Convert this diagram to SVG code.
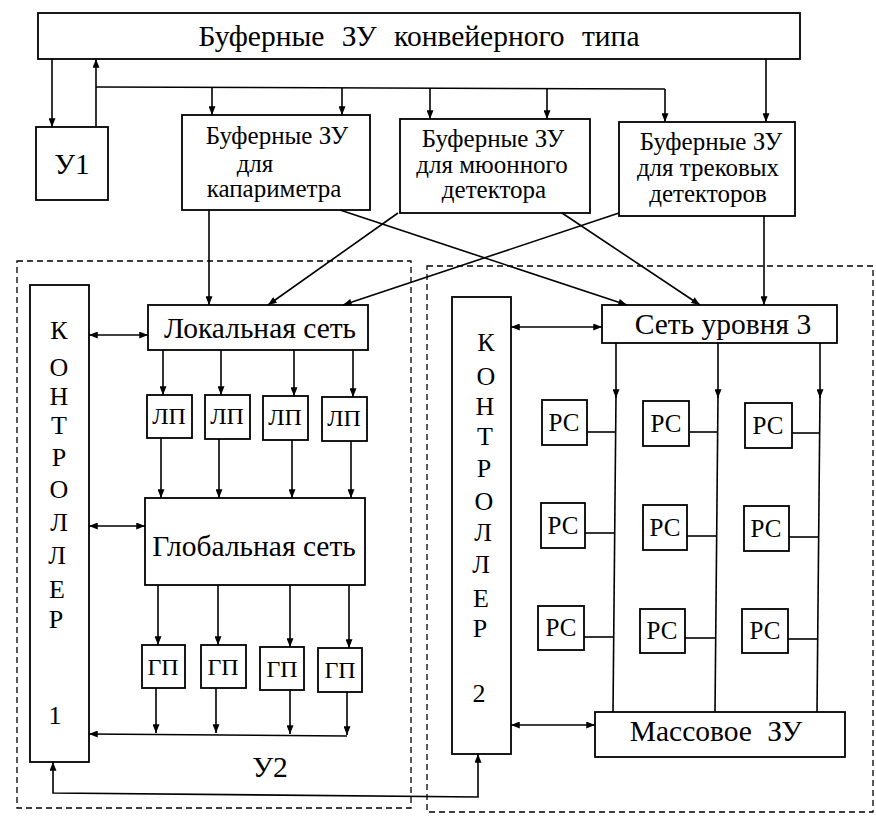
<svg xmlns="http://www.w3.org/2000/svg" width="876" height="817" viewBox="0 0 876 817" font-family="'Liberation Serif', 'DejaVu Serif', serif">
<defs>
<style>
.b{fill:#fff;stroke:#000;stroke-width:1.8}
.d{fill:none;stroke:#000;stroke-width:1.3;stroke-dasharray:6,4}
.c{fill:none;stroke:#000;stroke-width:1.6}
.a{marker-end:url(#ah)}
.aa{marker-start:url(#ah);marker-end:url(#ah)}
text{font-family:'Liberation Serif','DejaVu Serif',serif;fill:#000}
.t26{font-size:29.5px;text-anchor:middle}
.t24{font-size:25px;text-anchor:middle}
.t22{font-size:24px;text-anchor:middle}
.v{font-size:26px;text-anchor:middle}
</style>
<marker id="ah" viewBox="0 0 10 8" refX="10" refY="4" markerWidth="9" markerHeight="7" markerUnits="userSpaceOnUse" orient="auto-start-reverse">
<path d="M0,0 L10,4 L0,8 z" fill="#000"/>
</marker>
</defs>
<rect width="876" height="817" fill="#fff"/>

<g id="frame-u2"><rect class="d" x="17" y="261" width="394" height="547"/></g>
<g id="frame-right"><rect class="d" x="427" y="266" width="446" height="546"/></g>

<g id="top"><rect class="b" x="38" y="13" width="762" height="46"/>
<text class="t26" x="419" y="46" font-size="30" word-spacing="10">Буферные ЗУ конвейерного типа</text></g>

<g id="u1"><rect class="b" x="36" y="127" width="72" height="73"/>
<text class="t26" x="72" y="174" font-size="27">У1</text></g>

<g id="buf-cal"><rect class="b" x="182" y="115" width="188" height="95"/>
<text class="t24" x="277" y="144">Буферные ЗУ</text>
<text class="t24" x="255" y="172">для</text>
<text class="t24" x="274" y="197">капариметра</text></g>

<g id="buf-muon"><rect class="b" x="400" y="119" width="190" height="94"/>
<text class="t24" x="493" y="147">Буферные ЗУ</text>
<text class="t24" x="492" y="173">для мюонного</text>
<text class="t24" x="494" y="198">детектора</text></g>

<g id="buf-track"><rect class="b" x="619" y="122" width="176" height="94"/>
<text class="t24" x="711" y="150">Буферные ЗУ</text>
<text class="t24" x="708" y="176">для трековых</text>
<text class="t24" x="708" y="202">детекторов</text></g>

<g id="ctrl1"><rect class="b" x="30" y="285" width="59" height="477"/>
<text class="v" x="59" y="339">К</text>
<text class="v" x="59" y="376">О</text>
<text class="v" x="59" y="405">Н</text>
<text class="v" x="59" y="434">Т</text>
<text class="v" x="59" y="466">Р</text>
<text class="v" x="59" y="498">О</text>
<text class="v" x="59" y="531">Л</text>
<text class="v" x="57" y="564">Л</text>
<text class="v" x="57" y="598">Е</text>
<text class="v" x="56" y="628">Р</text>
<text class="v" x="55" y="724">1</text></g>

<g id="local"><rect class="b" x="148" y="305" width="220" height="45"/>
<text class="t26" x="260" y="338">Локальная сеть</text></g>

<g id="lp1"><rect class="b" x="147" y="395" width="45" height="43"/><text class="t22" x="169" y="424">ЛП</text></g>
<g id="lp2"><rect class="b" x="205" y="395" width="45" height="44"/><text class="t22" x="227" y="424">ЛП</text></g>
<g id="lp3"><rect class="b" x="263" y="396" width="45" height="44"/><text class="t22" x="285" y="425">ЛП</text></g>
<g id="lp4"><rect class="b" x="322" y="397" width="45" height="44"/><text class="t22" x="344" y="426">ЛП</text></g>

<g id="global"><rect class="b" x="145" y="498" width="220" height="87"/>
<text class="t26" x="254" y="556">Глобальная сеть</text></g>

<g id="gp1"><rect class="b" x="142" y="645" width="43" height="43"/><text class="t22" x="163" y="675">ГП</text></g>
<g id="gp2"><rect class="b" x="201" y="645" width="45" height="43"/><text class="t22" x="223" y="675">ГП</text></g>
<g id="gp3"><rect class="b" x="260" y="647" width="44" height="43"/><text class="t22" x="282" y="677">ГП</text></g>
<g id="gp4"><rect class="b" x="318" y="648" width="44" height="44"/><text class="t22" x="340" y="678">ГП</text></g>

<g id="u2label"><text class="t26" x="270" y="777" font-size="28">У2</text></g>

<g id="ctrl2"><rect class="b" x="452" y="297" width="59" height="457"/>
<text class="v" x="486" y="351">К</text>
<text class="v" x="486" y="385">О</text>
<text class="v" x="485" y="415">Н</text>
<text class="v" x="485" y="445">Т</text>
<text class="v" x="484" y="477">Р</text>
<text class="v" x="484" y="510">О</text>
<text class="v" x="483" y="541">Л</text>
<text class="v" x="481" y="573">Л</text>
<text class="v" x="481" y="607">Е</text>
<text class="v" x="480" y="637">Р</text>
<text class="v" x="479" y="702">2</text></g>

<g id="net3"><rect class="b" x="602" y="305" width="235" height="38"/>
<text class="t26" x="723" y="334">Сеть уровня 3</text></g>

<g id="pc11"><rect class="b" x="542" y="400" width="45" height="45"/><text class="t24" x="564" y="431">РС</text></g>
<g id="pc12"><rect class="b" x="643" y="401" width="46" height="45"/><text class="t24" x="666" y="432">РС</text></g>
<g id="pc13"><rect class="b" x="745" y="403" width="47" height="45"/><text class="t24" x="768" y="434">РС</text></g>
<g id="pc21"><rect class="b" x="541" y="503" width="44" height="45"/><text class="t24" x="563" y="534">РС</text></g>
<g id="pc22"><rect class="b" x="643" y="505" width="44" height="45"/><text class="t24" x="665" y="536">РС</text></g>
<g id="pc23"><rect class="b" x="744" y="506" width="45" height="45"/><text class="t24" x="766" y="537">РС</text></g>
<g id="pc31"><rect class="b" x="538" y="606" width="46" height="44"/><text class="t24" x="561" y="636">РС</text></g>
<g id="pc32"><rect class="b" x="640" y="609" width="45" height="44"/><text class="t24" x="662" y="639">РС</text></g>
<g id="pc33"><rect class="b" x="742" y="609" width="46" height="44"/><text class="t24" x="765" y="639">РС</text></g>

<g id="mass"><rect class="b" x="595" y="712" width="250" height="45"/>
<text class="t26" x="716" y="741" word-spacing="8">Массовое ЗУ</text></g>

<g id="connectors">
<line class="c a" x1="52" y1="59" x2="52" y2="127"/>
<line class="c a" x1="96" y1="127" x2="96" y2="59"/>
<line class="c" x1="96" y1="87" x2="665" y2="89"/>
<line class="c a" x1="212" y1="87" x2="212" y2="115"/>
<line class="c a" x1="342" y1="88" x2="342" y2="115"/>
<line class="c a" x1="430" y1="88" x2="430" y2="119"/>
<line class="c a" x1="547" y1="88" x2="547" y2="119"/>
<line class="c a" x1="665" y1="89" x2="665" y2="122"/>
<line class="c a" x1="766" y1="59" x2="766" y2="122"/>

<line class="c a" x1="209" y1="210" x2="209" y2="305"/>
<line class="c a" x1="340" y1="210" x2="627" y2="305"/>
<line class="c a" x1="398" y1="213" x2="268" y2="305"/>
<line class="c a" x1="562" y1="213" x2="700" y2="305"/>
<line class="c a" x1="619" y1="213" x2="343" y2="305"/>
<line class="c a" x1="764" y1="216" x2="764" y2="305"/>

<line class="c aa" x1="89" y1="335" x2="148" y2="335"/>
<line class="c aa" x1="89" y1="526" x2="145" y2="526"/>

<line class="c a" x1="163" y1="350" x2="163" y2="395"/>
<line class="c a" x1="221" y1="350" x2="221" y2="395"/>
<line class="c a" x1="294" y1="350" x2="294" y2="396"/>
<line class="c a" x1="353" y1="350" x2="353" y2="397"/>

<line class="c a" x1="161" y1="438" x2="161" y2="498"/>
<line class="c a" x1="219" y1="439" x2="219" y2="498"/>
<line class="c a" x1="292" y1="440" x2="292" y2="498"/>
<line class="c a" x1="351" y1="441" x2="351" y2="498"/>

<line class="c a" x1="158" y1="585" x2="158" y2="645"/>
<line class="c a" x1="218" y1="585" x2="218" y2="645"/>
<line class="c a" x1="290" y1="585" x2="290" y2="647"/>
<line class="c a" x1="349" y1="585" x2="349" y2="648"/>

<line class="c a" x1="156" y1="688" x2="156" y2="733"/>
<line class="c a" x1="216" y1="688" x2="216" y2="733"/>
<line class="c a" x1="290" y1="690" x2="290" y2="734"/>
<line class="c a" x1="347" y1="692" x2="347" y2="735"/>
<path class="c a" d="M347,736 L89,734"/>

<path class="c aa" d="M53,762 L53,793 L478,797 L478,754"/>

<line class="c aa" x1="511" y1="327" x2="602" y2="327"/>
<line class="c aa" x1="511" y1="725" x2="595" y2="725"/>

<line class="c a" x1="616" y1="343" x2="616" y2="398"/>
<line class="c" x1="616" y1="396" x2="613" y2="712"/>
<line class="c a" x1="718" y1="343" x2="718" y2="398"/>
<line class="c" x1="718" y1="396" x2="715" y2="712"/>
<line class="c a" x1="820" y1="343" x2="820" y2="398"/>
<line class="c" x1="820" y1="396" x2="817" y2="712"/>

<line class="c" x1="587" y1="432" x2="615" y2="432"/>
<line class="c" x1="689" y1="432" x2="717" y2="432"/>
<line class="c" x1="792" y1="433" x2="819" y2="433"/>
<line class="c" x1="585" y1="533" x2="614" y2="533"/>
<line class="c" x1="687" y1="536" x2="716" y2="536"/>
<line class="c" x1="789" y1="537" x2="818" y2="537"/>
<line class="c" x1="584" y1="637" x2="614" y2="637"/>
<line class="c" x1="685" y1="638" x2="715" y2="638"/>
<line class="c" x1="788" y1="639" x2="817" y2="639"/>
</g>
</svg>
